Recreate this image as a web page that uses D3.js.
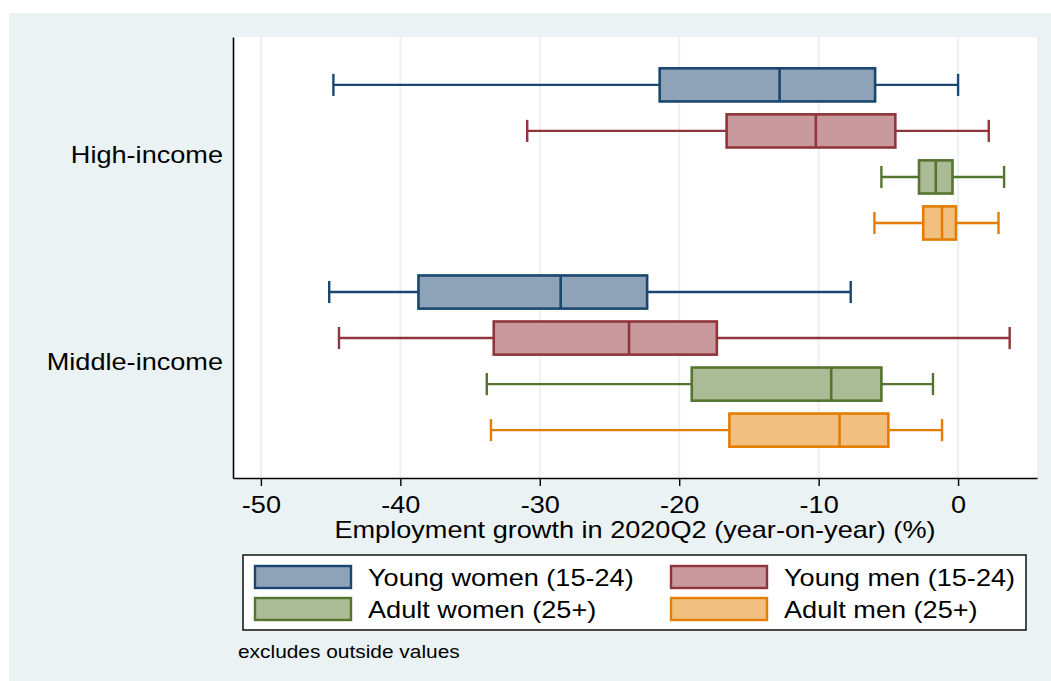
<!DOCTYPE html>
<html lang="en">
<head>
<meta charset="UTF-8">
<script src="https://d3js.org/d3.v7.min.js"></script>
<title>Employment growth box plot</title>
<style>
    body { margin: 0; background: white; }
    svg text { font-family: "Liberation Sans", Arial, sans-serif; fill: #000; }
</style>
</head>
<body>
<svg id="chart"></svg>
<script>
// groups on the y axis and the four series inside each group
const groups = ["High-income", "Middle-income"];
const series = ["Young women (15-24)", "Young men (15-24)", "Adult women (25+)", "Adult men (25+)"];
const xTicks = [-50, -40, -30, -20, -10, 0];

// box statistics, one row per group, one value per series
const lowerWhisker = [[-44.8, -30.9, -5.5, -6.0], [-45.1, -44.4, -33.8, -33.5]];
const q1           = [[-21.4, -16.6, -2.8, -2.5], [-38.7, -33.3, -19.1, -16.4]];
const median       = [[-12.8, -10.2, -1.6, -1.15], [-28.5, -23.6, -9.1, -8.5]];
const q3           = [[-5.95, -4.5, -0.4, -0.15], [-22.3, -17.3, -5.5, -5.0]];
const upperWhisker = [[0.0, 2.2, 3.3, 2.9], [-7.7, 3.7, -1.8, -1.15]];

const strokeColors = ["#1a476f", "#90353b", "#55752f", "#e37e00"];
const fillColors   = ["#8ea3b8", "#c8999d", "#aabb96", "#f1bf80"];

const w = 1051, h = 681;
const stretch = 1.13; // text in the original is a bit wide
const svg = d3.select("#chart").attr("width", w).attr("height", h);

// outer graph region
svg.append("rect").attr("x", 9).attr("y", 13).attr("width", w - 9).attr("height", h - 13)
   .attr("fill", "#eaf2f3");

const plot = { left: 233, right: 1037, top: 37, bottom: 478 };
svg.append("rect").attr("x", plot.left).attr("y", plot.top)
   .attr("width", plot.right - plot.left).attr("height", plot.bottom - plot.top)
   .attr("fill", "white");

const x = d3.scaleLinear().domain([-52.0, 5.66]).range([plot.left, plot.right]);
// slot index: group g, series s -> g*4.5 + s
const y = d3.scaleLinear().domain([-1.04, 8.54]).range([plot.top, plot.bottom]);
const slot = (g, s) => g * 4.5 + s;

// grid lines
svg.append("g").selectAll("line").data(xTicks).enter().append("line")
   .attr("x1", d => x(d)).attr("x2", d => x(d))
   .attr("y1", plot.top).attr("y2", plot.bottom)
   .attr("stroke", "#eaf2f3").attr("stroke-width", 2);

// flatten to one record per box
const boxes = [];
groups.forEach((g, gi) => {
    series.forEach((s, si) => {
        boxes.push({
            gi, si,
            lo: lowerWhisker[gi][si], q1: q1[gi][si], med: median[gi][si],
            q3: q3[gi][si], hi: upperWhisker[gi][si]
        });
    });
});

const boxH = y(0.72) - y(0);
const capH = y(0.48) - y(0);

const b = svg.append("g").selectAll("g").data(boxes).enter().append("g")
   .attr("transform", d => "translate(0," + y(slot(d.gi, d.si)) + ")");

// whiskers
b.append("line").attr("x1", d => x(d.lo)).attr("x2", d => x(d.q1))
   .attr("y1", 0).attr("y2", 0)
   .attr("stroke", d => strokeColors[d.si]).attr("stroke-width", 2.4);
b.append("line").attr("x1", d => x(d.q3)).attr("x2", d => x(d.hi))
   .attr("y1", 0).attr("y2", 0)
   .attr("stroke", d => strokeColors[d.si]).attr("stroke-width", 2.4);
// caps
b.append("line").attr("x1", d => x(d.lo)).attr("x2", d => x(d.lo))
   .attr("y1", -capH / 2).attr("y2", capH / 2)
   .attr("stroke", d => strokeColors[d.si]).attr("stroke-width", 2.4);
b.append("line").attr("x1", d => x(d.hi)).attr("x2", d => x(d.hi))
   .attr("y1", -capH / 2).attr("y2", capH / 2)
   .attr("stroke", d => strokeColors[d.si]).attr("stroke-width", 2.4);
// box
b.append("rect").attr("x", d => x(d.q1)).attr("width", d => x(d.q3) - x(d.q1))
   .attr("y", -boxH / 2).attr("height", boxH)
   .attr("fill", d => fillColors[d.si])
   .attr("stroke", d => strokeColors[d.si]).attr("stroke-width", 2.6);
// median
b.append("line").attr("x1", d => x(d.med)).attr("x2", d => x(d.med))
   .attr("y1", -boxH / 2).attr("y2", boxH / 2)
   .attr("stroke", d => strokeColors[d.si]).attr("stroke-width", 2.6);

// x axis
const xAxis = d3.axisBottom(x).tickValues(xTicks).tickSize(8).tickSizeOuter(0).tickPadding(10)
   .tickFormat(d => String(d));
const gx = svg.append("g").attr("transform", "translate(0," + plot.bottom + ")").call(xAxis);
gx.select(".domain").attr("stroke", "#000").attr("stroke-width", 1.6);
gx.selectAll(".tick line").attr("stroke", "#000").attr("stroke-width", 1.4);
gx.selectAll(".tick text").style("font-size", "24px").style("font-family", "'Liberation Sans', Arial, sans-serif")
   .attr("transform", "scale(" + stretch + ",1)");

svg.append("text")
   .attr("transform", "translate(" + (plot.left + plot.right) / 2 + ",538) scale(" + stretch + ",1)")
   .attr("text-anchor", "middle").style("font-size", "24px")
   .text("Employment growth in 2020Q2 (year-on-year) (%)");

// y axis with group labels
const yAxis = d3.axisLeft(y).tickValues([slot(0, 1.5), slot(1, 1.5)])
   .tickFormat((d, i) => groups[i]).tickSize(0).tickSizeOuter(0).tickPadding(10 / stretch);
const gy = svg.append("g").attr("transform", "translate(" + plot.left + ",0)").call(yAxis);
gy.select(".domain").attr("stroke", "#000").attr("stroke-width", 1.6);
gy.selectAll(".tick text").style("font-size", "24px").style("font-family", "'Liberation Sans', Arial, sans-serif")
   .attr("dy", "0.36em").attr("transform", "scale(" + stretch + ",1)");

// legend
svg.append("rect").attr("x", 243).attr("y", 555).attr("width", 783).attr("height", 75)
   .attr("fill", "white").attr("stroke", "#000").attr("stroke-width", 1.4);

const legend = svg.append("g").selectAll("g").data(series).enter().append("g")
   .attr("transform", (d, i) => "translate(" + (i % 2 === 0 ? 255 : 671) + "," + (i < 2 ? 566 : 598) + ")");
legend.append("rect").attr("width", 96).attr("height", 22)
   .attr("fill", (d, i) => fillColors[i]).attr("stroke", (d, i) => strokeColors[i]).attr("stroke-width", 2.4);
legend.append("text").attr("transform", "translate(113,20) scale(" + stretch + ",1)")
   .style("font-size", "24px").text(d => d);

svg.append("text").attr("transform", "translate(238,658) scale(" + stretch + ",1)")
   .style("font-size", "18.5px")
   .text("excludes outside values");
</script>
</body>
</html>
